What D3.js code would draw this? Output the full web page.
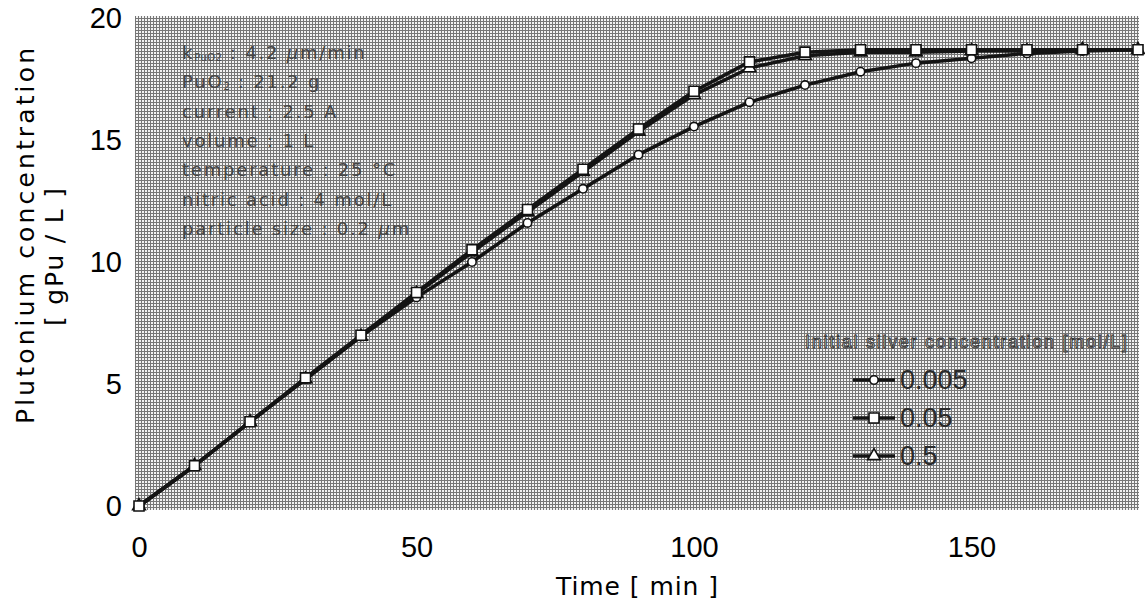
<!DOCTYPE html>
<html>
<head>
<meta charset="utf-8">
<script src="https://cdn.jsdelivr.net/npm/d3@7"></script>
<style>
  html, body { margin: 0; padding: 0; background: #fff; }
  svg { display: block; }
</style>
</head>
<body>
<svg id="chart" width="1145" height="607"></svg>
<script>
// Dissolution time series (min) and plutonium concentration (gPu/L)
const times = [0, 10, 20, 30, 40, 50, 60, 70, 80, 90, 100, 110, 120, 130, 140, 150, 160, 170, 180];
const silver0005 = [0, 1.65, 3.45, 5.2, 6.95, 8.55, 10.0, 11.6, 13.0, 14.4, 15.55, 16.55, 17.25, 17.8, 18.15, 18.35, 18.55, 18.65, 18.7];
const silver005 = [0, 1.65, 3.45, 5.25, 7.0, 8.75, 10.5, 12.15, 13.8, 15.45, 17.0, 18.2, 18.6, 18.7, 18.7, 18.7, 18.7, 18.7, 18.7];
const silver05 = [0, 1.65, 3.45, 5.2, 6.95, 8.7, 10.4, 12.05, 13.7, 15.35, 16.85, 17.95, 18.45, 18.6, 18.6, 18.65, 18.65, 18.7, 18.7];
const seriesLabels = ["0.005", "0.05", "0.5"];
const seriesSymbols = ["circle", "square", "triangle"];
const xTicks = [0, 50, 100, 150];
const yTicks = [0, 5, 10, 15, 20];
const legendTitle = "Initial silver concentration [mol/L]";
const xTitle = "Time [ min ]";
const yTitle = "Plutonium concentration";
const yUnit = "[ gPu / L ]";

const svg = d3.select("#chart");
const plot = { left: 135, right: 1139, top: 16, bottom: 510 };

const x = d3.scaleLinear().domain([0, 180]).range([139, 1138]);
const y = d3.scaleLinear().domain([0, 20]).range([506, 18]);

const tickFont = "'Liberation Sans Narrow', 'Liberation Sans', Arial, sans-serif";
const titleFont = "'DejaVu Sans', sans-serif";
const textFont = "'Liberation Sans', Arial, sans-serif";

// Dithered grey plot area
const defs = svg.append("defs");
const pat = defs.append("pattern")
  .attr("id", "dither").attr("patternUnits", "userSpaceOnUse")
  .attr("width", 3).attr("height", 3);
pat.append("rect").attr("width", 3).attr("height", 3).attr("fill", "#f2f2f2");
pat.append("rect").attr("x", 0).attr("y", 0).attr("width", 3).attr("height", 1).attr("fill", "#767676");
pat.append("rect").attr("x", 0).attr("y", 0).attr("width", 1).attr("height", 3).attr("fill", "#767676");

svg.append("rect")
  .attr("x", plot.left).attr("y", plot.top)
  .attr("width", plot.right - plot.left).attr("height", plot.bottom - plot.top)
  .attr("fill", "url(#dither)");

// Axes: labels only, no tick marks or domain lines
const xAxis = svg.append("g")
  .attr("transform", `translate(0,${y(0)})`)
  .call(d3.axisBottom(x).tickValues(xTicks).tickSize(0).tickPadding(30));
const yAxis = svg.append("g")
  .attr("transform", `translate(${x(0)},0)`)
  .call(d3.axisLeft(y).tickValues(yTicks).tickSize(0).tickPadding(17));
[xAxis, yAxis].forEach(g => {
  g.select(".domain").remove();
  g.selectAll("text")
    .attr("font-family", tickFont)
    .attr("font-size", 29)
    .attr("fill", "#000");
});

// Axis titles
svg.append("text")
  .attr("x", 637).attr("y", 586)
  .attr("text-anchor", "middle").attr("dominant-baseline", "central")
  .attr("font-family", titleFont).attr("font-size", 25)
  .attr("textLength", 162).attr("lengthAdjust", "spacing")
  .text(xTitle);
svg.append("text")
  .attr("transform", "translate(25,236) rotate(-90)")
  .attr("text-anchor", "middle").attr("dominant-baseline", "central")
  .attr("font-family", titleFont).attr("font-size", 25)
  .attr("textLength", 376).attr("lengthAdjust", "spacing")
  .text(yTitle);
svg.append("text")
  .attr("transform", "translate(54,257) rotate(-90)")
  .attr("text-anchor", "middle").attr("dominant-baseline", "central")
  .attr("font-family", titleFont).attr("font-size", 25)
  .attr("textLength", 138).attr("lengthAdjust", "spacing")
  .text(yUnit);

// Marker shapes
const symbolOf = {
  circle: d3.symbol().type(d3.symbolCircle).size(55),
  square: d3.symbol().type(d3.symbolSquare).size(100),
  triangle: d3.symbol().type(d3.symbolTriangle).size(70)
};

const series = [
  { name: seriesLabels[0], symbol: seriesSymbols[0], values: silver0005 },
  { name: seriesLabels[2], symbol: seriesSymbols[2], values: silver05 },
  { name: seriesLabels[1], symbol: seriesSymbols[1], values: silver005 }
];

const line = d3.line().x(d => x(d[0])).y(d => y(d[1]));

series.forEach(s => {
  const pts = times.map((t, i) => [t, s.values[i]]);
  const g = svg.append("g");
  g.append("path")
    .attr("d", line(pts))
    .attr("fill", "none").attr("stroke", "#141414")
    .attr("stroke-width", 3.5).attr("stroke-linejoin", "round");
  g.selectAll("path.mark").data(pts).join("path")
    .attr("class", "mark")
    .attr("transform", d => `translate(${x(d[0])},${y(d[1])})`)
    .attr("d", symbolOf[s.symbol]())
    .attr("fill", "#fff").attr("stroke", "#111").attr("stroke-width", 1.6);
});

// Experimental conditions block: [text, role] where role 1 = subscript, 2 = italic
const notes = svg.append("g")
  .attr("font-family", titleFont).attr("font-size", 18)
  .attr("fill", "#454545").attr("letter-spacing", 1.8);
const noteY = i => 52 + i * 29.3;
const noteLines = [
  [["k", 0], ["PuO2", 1], [" : 4.2  ", 0], ["μ", 2], ["m/min", 0]],
  [["PuO", 0], ["2", 1], [" : 21.2 g", 0]],
  [["current : 2.5 A", 0]],
  [["volume : 1 L", 0]],
  [["temperature : 25 °C", 0]],
  [["nitric acid : 4 mol/L", 0]],
  [["particle size : 0.2  ", 0], ["μ", 2], ["m", 0]]
];
noteLines.forEach((parts, i) => {
  const t = notes.append("text").attr("x", 182).attr("y", noteY(i)).attr("dominant-baseline", "central");
  let lowered = false;
  parts.forEach(([str, role]) => {
    const ts = t.append("tspan").text(str);
    if (role === 1) {
      ts.attr("font-size", 10).attr("dy", 5).attr("letter-spacing", 0.4);
      lowered = true;
    } else {
      if (lowered) { ts.attr("dy", -5); lowered = false; }
      if (role === 2) ts.attr("font-style", "italic");
    }
  });
});

// Legend
const legend = svg.append("g");
legend.append("text")
  .attr("x", 1127).attr("y", 342)
  .attr("text-anchor", "end").attr("dominant-baseline", "central")
  .attr("font-family", textFont).attr("font-size", 18)
  .attr("fill", "#d6d6d6").attr("stroke", "#333").attr("stroke-width", 0.9)
  .attr("textLength", 322).attr("lengthAdjust", "spacing")
  .text(legendTitle);
const legendItems = [
  { name: seriesLabels[0], symbol: seriesSymbols[0] },
  { name: seriesLabels[1], symbol: seriesSymbols[1] },
  { name: seriesLabels[2], symbol: seriesSymbols[2] }
];
legendItems.forEach((d, i) => {
  const ly = 380 + i * 38;
  legend.append("line")
    .attr("x1", 853).attr("x2", 895).attr("y1", ly).attr("y2", ly)
    .attr("stroke", "#141414").attr("stroke-width", 3.5);
  legend.append("path")
    .attr("transform", `translate(874,${ly})`)
    .attr("d", symbolOf[d.symbol]())
    .attr("fill", "#fff").attr("stroke", "#111").attr("stroke-width", 1.6);
  legend.append("text")
    .attr("x", 900).attr("y", ly)
    .attr("dominant-baseline", "central")
    .attr("font-family", tickFont).attr("font-size", 27)
    .attr("fill", "#2a2a2a")
    .text(d.name);
});
</script>
</body>
</html>
